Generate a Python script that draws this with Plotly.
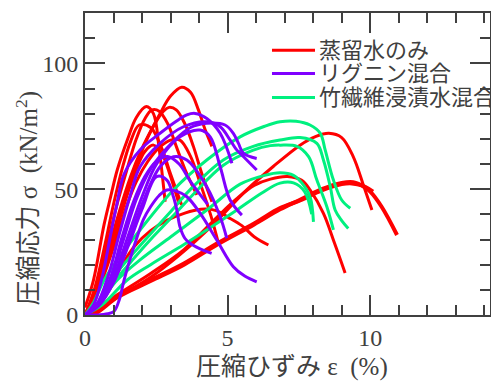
import plotly.graph_objects as go

# ---------------- data (strain %, stress kN/m2) ----------------
# 蒸留水のみ (red)
R1_x = [0, 0.4, 0.8, 1.2, 1.6, 1.95, 2.3, 2.63, 3.0, 3.39, 3.7, 3.98, 4.2, 4.45]
R1_y = [0, 10, 25, 41, 55, 65, 73, 80, 87, 90.5, 88.5, 81.4, 74, 67]
R2_x = [0, 0.3, 0.67, 0.9, 1.13, 1.5, 1.8, 2.15, 2.4, 2.6, 2.81]
R2_y = [3, 14, 36, 47, 57.6, 70, 78.5, 82.8, 80, 66, 45]
R3_x = [0, 0.4, 0.8, 1.1, 1.45, 1.8, 2.1, 2.35, 2.6, 2.9, 3.2, 3.5, 3.92]
R3_y = [0, 11, 29, 43, 57, 70, 78, 81.5, 81, 76, 67, 58, 47.7]
R4_x = [0, 0.45, 0.9, 1.3, 1.7, 2.1, 2.45, 2.75, 2.95, 3.2, 3.5, 3.8, 4.1, 4.45]
R4_y = [0, 10, 26, 42, 56, 68, 76, 81, 82.5, 81.5, 76, 67, 56, 45]
R5_x = [0, 0.35, 0.7, 1.0, 1.3, 1.6, 1.9, 2.3, 2.7, 3.0, 3.39]
R5_y = [0, 11, 28, 44, 58, 69, 75.5, 74.5, 66, 56, 43.7]
R6_x = [0, 0.5, 1.0, 1.4, 1.8, 2.1, 2.4, 2.7, 3.0, 3.3]
R6_y = [0, 12, 30, 45, 58, 65, 67.5, 64, 55, 44]
R7_x = [0, 0.5, 1.0, 1.45, 1.8, 2.2, 2.6, 3.0, 3.33, 3.7, 4.04, 4.4, 4.68]
R7_y = [0, 11, 27, 43, 53, 61, 66.5, 69.5, 69.5, 63, 52.3, 40, 28.5]
R8_x = [0, 0.3, 0.67, 1.13, 1.72, 2.3, 2.89, 3.5, 4.06, 4.6, 4.99, 5.5, 5.93, 6.43]
R8_y = [0, 3, 7.3, 16.6, 27.1, 33.5, 37.7, 40.5, 42, 41.5, 39, 35.5, 31.1, 27.8]
R9_x = [0, 0.5, 1.13, 2.3, 3.33, 4.5, 5.67, 6.6, 7.54, 8.1, 8.55, 9.0, 9.4, 9.75, 10.06]
R9_y = [0, 2.5, 7, 15, 24, 36, 49.7, 59, 67.5, 71, 72.2, 70.5, 63, 52, 41.7]
R10_x = [0, 0.5, 1.13, 2.3, 3.47, 4.64, 5.3, 5.93, 6.5, 7.1, 7.6, 7.89, 8.36, 8.75, 9.12]
R10_y = [0, 3, 8, 16.5, 26, 39, 46, 51.5, 54, 55, 53.5, 49.7, 40.4, 28.5, 16.7]
R11_x = [0, 0.32, 1.13, 2.3, 3.47, 4.64, 5.93, 6.84, 7.54, 8.3, 9.0, 9.36, 9.7, 10.0, 10.4, 10.94]
R11_y = [0, 0.7, 7.3, 13.9, 20.5, 28.5, 36.4, 42.5, 45.5, 49.5, 52, 52.3, 51.5, 49, 43, 31.8]
R12_x = [0, 0.35, 1.13, 2.3, 3.47, 4.64, 5.93, 6.84, 7.54, 8.3, 9.0, 9.4, 9.8, 10.1]
R12_y = [0, 0.6, 7, 13.5, 20, 28, 36, 42, 45.8, 50, 52.5, 52.8, 51, 49]

# リグニン混合 (purple)
P1_x = [0, 0.3, 0.6, 0.9, 1.1, 1.37, 1.93, 2.63, 3.2, 3.57, 3.86, 4.27, 4.74, 5.15]
P1_y = [0, 4, 15, 32, 43, 56, 65.6, 72.2, 77, 79.5, 80.1, 78.1, 72.2, 60.3]
P2_x = [0, 0.4, 0.8, 1.2, 1.6, 1.93, 2.63, 3.45, 4.27, 4.74, 5.09, 5.32, 5.56, 6.02]
P2_y = [0, 4, 15, 32, 48, 58.9, 68.2, 74.8, 76.8, 74.8, 69.5, 65.6, 62.9, 57.6]
P3_x = [0, 0.45, 0.9, 1.35, 1.8, 2.3, 3.1, 3.7, 4.27, 4.91, 5.2, 5.38, 5.56, 6.02]
P3_y = [0, 4, 14, 30, 46, 58, 69, 74.5, 76.2, 75.5, 72.2, 68.2, 64.2, 62.2]
P4_x = [0, 0.5, 1.0, 1.5, 2.0, 2.51, 3.33, 4.04, 4.39, 4.74, 5.09, 5.5]
P4_y = [0, 4.5, 15, 31, 47, 60, 70.8, 73.5, 70.8, 58.9, 45.7, 39.7]
P5_x = [0, 0.5, 1.0, 1.5, 2.0, 2.63, 3.1, 3.57, 4.27, 4.74, 4.97]
P5_y = [0, 4, 13, 28, 44, 58.9, 62.9, 61.6, 51, 39, 30.5]
P6_x = [0, 0.43, 0.8, 1.02, 1.2, 1.37, 1.6, 1.83, 2.05, 2.3, 2.6, 2.87, 3.2, 3.57, 4.04, 4.62, 5.2, 5.6, 6.02]
P6_y = [0, 0, 0.5, 1.5, 6, 13.9, 23, 31.1, 38, 43, 47.5, 49.7, 49.2, 47, 40.4, 29.8, 19.2, 15.5, 13.2]
P7_x = [0, 0.5, 1.0, 1.5, 2.0, 2.51, 2.87, 3.1, 3.22, 3.33, 3.5, 3.68, 4.0, 4.44]
P7_y = [0, 4, 13, 27, 42, 55, 53.6, 47, 41.7, 35, 30.5, 28.5, 26.5, 24.5]
P8_x = [0, 0.45, 0.9, 1.3, 1.7, 2.1, 2.5, 2.9, 3.3, 3.7, 4.3]
P8_y = [0, 4, 15, 31, 45, 55, 61, 63, 60, 53, 44]

# 竹繊維浸漬水混合 (green)
G1_x = [0, 0.3, 0.67, 1.2, 1.93, 3.1, 4.27, 5.44, 6.3, 6.84, 7.4, 7.89, 8.25, 8.42, 8.71, 9.0, 9.3]
G1_y = [0, 5, 13.9, 23, 33.8, 49.7, 61.6, 70.8, 75, 76.8, 77, 75.5, 72.2, 65.6, 53.6, 45.7, 42.4]
G2_x = [0, 0.4, 0.9, 1.5, 2.2, 3.0, 3.68, 4.85, 5.9, 6.84, 7.54, 8.13, 8.36, 8.6, 8.77, 9.0, 9.23]
G2_y = [0, 4, 13.9, 22, 31, 41, 49.7, 61.6, 67, 69.5, 70.5, 68.2, 61.6, 51, 41.7, 37.5, 34.4]
G3_x = [0, 0.45, 1.0, 1.6, 2.3, 3.1, 3.8, 4.85, 5.9, 6.5, 6.84, 7.43, 7.84, 8.13, 8.48, 8.71]
G3_y = [0, 4, 13, 21, 30, 39.5, 48, 59.5, 65.5, 67.3, 67.5, 67, 62.9, 53.6, 43, 33.8]
G4_x = [0, 0.5, 1.13, 1.93, 3.0, 4.27, 5.44, 6.3, 6.84, 7.31, 7.6, 7.89, 8.01]
G4_y = [0, 5, 13.9, 21.9, 31, 41.7, 52, 55.5, 56.5, 55.5, 52.5, 47, 37]
G5_x = [0, 0.6, 1.48, 2.3, 3.47, 4.27, 5.3, 6.2, 6.84, 7.31, 7.7, 7.95]
G5_y = [0, 4, 13.9, 20, 28, 33.8, 41.5, 48.5, 52.4, 52.5, 49, 40]

X_TICKS = [0, 5, 10]
Y_TICKS = [0, 50, 100]
LEGEND_LABELS = ["蒸留水のみ", "リグニン混合", "竹繊維浸漬水混合"]

RED = "#FF0000"
PURPLE = "#8000FF"
GREEN = "#00F07F"
AXC = "#404040"

red_curves = [(R1_x, R1_y), (R2_x, R2_y), (R3_x, R3_y), (R4_x, R4_y), (R5_x, R5_y),
              (R6_x, R6_y), (R7_x, R7_y), (R8_x, R8_y), (R9_x, R9_y), (R10_x, R10_y)]
thick_red = [(R11_x, R11_y), (R12_x, R12_y)]
purple_curves = [(P1_x, P1_y), (P2_x, P2_y), (P3_x, P3_y), (P4_x, P4_y),
                 (P5_x, P5_y), (P6_x, P6_y), (P7_x, P7_y), (P8_x, P8_y)]
green_curves = [(G1_x, G1_y), (G2_x, G2_y), (G3_x, G3_y), (G4_x, G4_y), (G5_x, G5_y)]

fig = go.Figure()

def add(curves, color, width):
    for xs, ys in curves:
        fig.add_trace(go.Scatter(x=xs, y=ys, mode="lines",
                                 line=dict(color=color, width=width, shape="spline", smoothing=1.0),
                                 hoverinfo="skip", showlegend=False))

add(red_curves, RED, 3)
add(thick_red, RED, 4)
add(green_curves, GREEN, 3)
add(purple_curves, PURPLE, 3)

FONT = "Liberation Serif, 'Noto Sans CJK JP', serif"

axis_common = dict(
    ticks="inside", ticklen=20, tickwidth=2, tickcolor=AXC,
    showline=True, linewidth=2, linecolor=AXC, mirror="ticks",
    showgrid=False, zeroline=False, automargin=False,
    tickfont=dict(family=FONT, size=24, color=AXC),
)

fig.update_xaxes(range=[0, 14.2], tickmode="array", tickvals=X_TICKS,
                 minor=dict(dtick=1, tick0=0, ticklen=10, tickwidth=2, tickcolor=AXC,
                            ticks="inside", showgrid=False),
                 **axis_common)
fig.update_yaxes(range=[0, 120], tickmode="array", tickvals=Y_TICKS,
                 minor=dict(dtick=10, tick0=0, ticklen=10, tickwidth=2, tickcolor=AXC,
                            ticks="inside", showgrid=False),
                 **axis_common)

ann = []
ann.append(dict(text="圧縮応力 σ  (kN/m<sup>2</sup>)", xref="paper", yref="paper",
                x=-0.143, y=0.386, xanchor="center", yanchor="middle", textangle=-90,
                showarrow=False, font=dict(family=FONT, size=25, color=AXC)))
ann.append(dict(text="圧縮ひずみ ε  (%)", xref="paper", yref="paper",
                x=0.511, y=-0.172, xanchor="center", yanchor="middle",
                showarrow=False, font=dict(family=FONT, size=25, color=AXC)))

shapes = []
leg_y = [0.877, 0.800, 0.720]
for lbl, col, yy in zip(LEGEND_LABELS, [RED, PURPLE, GREEN], leg_y):
    shapes.append(dict(type="line", xref="paper", yref="paper", x0=0.4617, x1=0.5679,
                       y0=yy, y1=yy, line=dict(color=col, width=3)))
    ann.append(dict(text=lbl, xref="paper", yref="paper", x=0.572, y=yy,
                    xanchor="left", yanchor="middle", showarrow=False,
                    font=dict(family=FONT, size=22, color=AXC)))

fig.update_layout(width=491, height=381, margin=dict(l=85, r=1, t=13, b=66),
                  plot_bgcolor="white", paper_bgcolor="white", showlegend=False,
                  annotations=ann, shapes=shapes,
                  font=dict(family=FONT, size=24, color=AXC))

fig.write_html("out.html", config={"displayModeBar": False},
               post_script="document.body.style.margin='0';document.body.style.overflow='hidden';")
